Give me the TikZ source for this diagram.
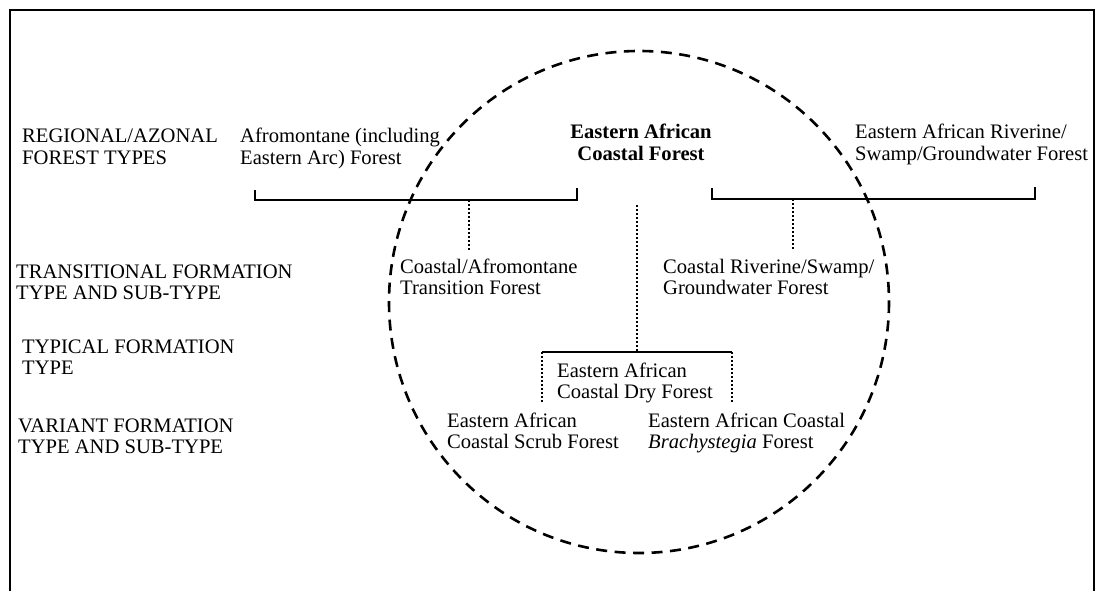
\documentclass[tikz,border=0pt]{standalone}
\usepackage{fontspec}
\setmainfont{Liberation Serif}
\begin{document}
\begin{tikzpicture}[x=1pt,y=-1pt,
  txt/.style={inner sep=0pt, align=left, font=\fontsize{20.6}{21.5}\selectfont},
  ctxt/.style={inner sep=0pt, align=center, font=\fontsize{20.6}{21.5}\selectfont\bfseries},
  frame/.style={line width=2.4pt},
  brk/.style={line width=1.8pt},
  dotl/.style={line width=1.1pt, dash pattern=on 2pt off 2pt},
  oval/.style={line width=2.6pt, dash pattern=on 11pt off 7.5pt}]
\useasboundingbox (0,0) rectangle (1096,591);
% frame
\draw[frame] (10,591) -- (10,10) -- (1094,10) -- (1094,591);
% ellipse
\draw[oval] (639,302) ellipse [x radius=250, y radius=251];
% left labels (anchor at baseline of the last line)
\node[txt, anchor=base west] (lab1) at (22,164.5) {REGIONAL/AZONAL\\FOREST TYPES};
\node[txt, anchor=base west] (lab2) at (16,299.5) {TRANSITIONAL FORMATION\\TYPE AND SUB-TYPE};
\node[txt, anchor=base west] (lab3) at (22,374.5) {TYPICAL FORMATION\\TYPE};
\node[txt, anchor=base west] (lab4) at (18,453.5) {VARIANT FORMATION\\TYPE AND SUB-TYPE};
% regional types
\node[txt, anchor=base west] (afro) at (240,164.5) {Afromontane (including\\Eastern Arc) Forest};
\node[ctxt, anchor=base] (coast) at (641,160.5) {Eastern African\\Coastal Forest};
\node[txt, anchor=base west] (river) at (855,160.5) {Eastern African Riverine/\\Swamp/Groundwater Forest};
% transitional
\node[txt, anchor=base west] (trans1) at (400,294.5) {Coastal/Afromontane\\Transition Forest};
\node[txt, anchor=base west] (trans2) at (663,294.5) {Coastal Riverine/Swamp/\\Groundwater Forest};
% typical
\node[txt, anchor=base west] (dry) at (557,398.5) {Eastern African\\Coastal Dry Forest};
% variants
\node[txt, anchor=base west] (scrub) at (447,448.5) {Eastern African\\Coastal Scrub Forest};
\node[txt, anchor=base west] (brachy) at (648,448.5) {Eastern African Coastal\\\textit{Brachystegia} Forest};
% brackets
\coordinate (bl1) at (255,190);
\coordinate (bl2) at (255,200);
\coordinate (bl3) at (577,200);
\coordinate (bl4) at (577,188);
\draw[brk] (bl1) -- (bl2) -- (bl3) -- (bl4);
\coordinate (br1) at (712,188);
\coordinate (br2) at (712,199);
\coordinate (br3) at (1035,199);
\coordinate (br4) at (1035,187);
\draw[brk] (br1) -- (br2) -- (br3) -- (br4);
\coordinate (bd1) at (542,402);
\coordinate (bd2) at (542,352);
\coordinate (bd3) at (732,352);
\coordinate (bd4) at (732,402);
\draw[brk] (bd2) -- (bd3);
\draw[dotl] (bd1) -- (bd2);
\draw[dotl] (bd3) -- (bd4);
% dotted connectors
\coordinate (m1) at (469,200);
\coordinate (t1) at (469,250);
\draw[dotl] (m1) -- (t1);
\coordinate (m2) at (793,199);
\coordinate (t2) at (793,250);
\draw[dotl] (m2) -- (t2);
\coordinate (m3) at (637,205);
\coordinate (t3) at (637,352);
\draw[dotl] (m3) -- (t3);
\end{tikzpicture}
\end{document}
